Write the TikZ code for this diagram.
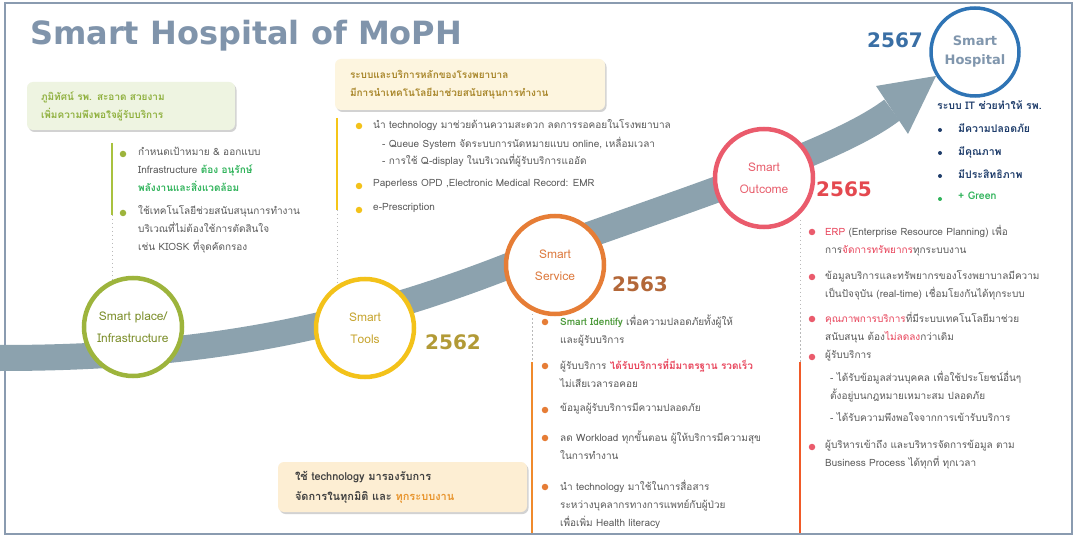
\documentclass[tikz,border=0pt]{standalone}
\usepackage{fontspec}
\setmainfont[Script=Thai]{Loma}
\newfontfamily\titlefont{DejaVu Sans}
\usetikzlibrary{shadows}
\definecolor{titlec}{HTML}{8094AB}
\definecolor{bandc}{HTML}{8CA2AE}
\definecolor{framec}{HTML}{8A9BB0}
\definecolor{placec}{HTML}{9DB43C}
\definecolor{placetxt}{HTML}{7D8F2C}
\definecolor{toolsc}{HTML}{F3C21A}
\definecolor{toolstxt}{HTML}{C7A530}
\definecolor{servc}{HTML}{E67D36}
\definecolor{servtxt}{HTML}{DD7B40}
\definecolor{outc}{HTML}{EA5B6C}
\definecolor{outtxt}{HTML}{E8606E}
\definecolor{hospc}{HTML}{2F74B5}
\definecolor{hosptxt}{HTML}{8096AD}
\definecolor{yA}{HTML}{B29A36}
\definecolor{yB}{HTML}{B36738}
\definecolor{yC}{HTML}{E4484F}
\definecolor{yD}{HTML}{3A6FA5}
\definecolor{txtgray}{HTML}{5A5A5A}
\definecolor{greenhl}{HTML}{2FB35A}
\definecolor{smartgreen}{HTML}{4C9A3A}
\definecolor{redhl}{HTML}{E8435A}
\definecolor{orangehl}{HTML}{E8952E}
\definecolor{navy}{HTML}{1F3D6B}
\definecolor{greenbox}{HTML}{EEF4E1}
\definecolor{greentxt}{HTML}{8FB03E}
\definecolor{yelbox}{HTML}{FDF5DF}
\definecolor{yeltxt}{HTML}{A8862A}
\definecolor{peachbox}{HTML}{FDEED3}
\definecolor{outline}{HTML}{F05A28}
\definecolor{servline}{HTML}{F08A2C}
\definecolor{placeline}{HTML}{A9C23F}
\definecolor{toolsline}{HTML}{F5C518}
\tikzset{
 body/.style={anchor=north west, inner sep=0pt, align=left, font=\fontsize{10}{18}\selectfont, text=txtgray},
 bdot/.style={circle, fill=#1, inner sep=0pt, minimum size=6.5pt},
 ring/.style={circle, draw=#1, line width=4.5pt, fill=white, minimum size=98pt, align=center, font=\fontsize{12}{22}\selectfont},
 year/.style={font=\titlefont\bfseries\fontsize{20}{20}\selectfont, anchor=base west, inner sep=0pt},
 dotline/.style={draw=gray!55, line width=1pt, dash pattern=on 1.5pt off 2.5pt},
 infobox/.style={rounded corners=6pt, drop shadow={opacity=0.35, shadow xshift=1.5pt, shadow yshift=-2pt}, align=left}
}
\begin{document}
\begin{tikzpicture}[x=1pt,y=-1pt]
\useasboundingbox (0,0) rectangle (1077,540);
\fill[white] (0,0) rectangle (1077,540);
\draw[framec, line width=1.2pt] (5,3) rectangle (1072,534);

% title
\node[anchor=base west, inner sep=0pt, font=\titlefont\bfseries\fontsize{32}{32}\selectfont, text=titlec] (title) at (30,45) {Smart Hospital of MoPH};

% band arrow
\coordinate (bs) at (0,358);
\coordinate (bm) at (555,247);
\coordinate (be) at (892,110);
\draw[line width=26pt, bandc] (bs) .. controls (200,358) and (360,330) .. (bm) .. controls (700,195) and (840,150) .. (be);
\coordinate (h1) at (876,86);
\coordinate (h2) at (936,76);
\coordinate (h3) at (908,134);
\fill[bandc] (h1) -- (h2) -- (h3) -- cycle;

% vertical guide lines
\coordinate (l1a) at (112,143); \coordinate (l1b) at (112,215); \coordinate (l1c) at (112,280);
\draw[placeline, line width=2.5pt] (l1a) -- (l1b);
\draw[dotline] (l1b) -- (l1c);
\coordinate (l2a) at (337,118); \coordinate (l2b) at (337,210); \coordinate (l2c) at (337,284);
\draw[toolsline, line width=2.5pt] (l2a) -- (l2b);
\draw[dotline] (l2b) -- (l2c);
\coordinate (l3a) at (532,310); \coordinate (l3b) at (532,362); \coordinate (l3c) at (532,533);
\draw[dotline] (l3a) -- (l3b);
\draw[servline, line width=2.5pt] (l3b) -- (l3c);
\coordinate (l4a) at (800,220); \coordinate (l4b) at (800,362); \coordinate (l4c) at (800,533);
\draw[dotline] (l4a) -- (l4b);
\draw[outline, line width=2.5pt] (l4b) -- (l4c);

% circles
\node[ring=placec, text=placetxt] (place) at (133,327) {Smart place/\\Infrastructure};
\node[ring=toolsc, text=toolstxt] (tools) at (365,328) {Smart\\Tools};
\node[ring=servc, text=servtxt] (service) at (555,265) {Smart\\Service};
\node[ring=outc, text=outtxt] (outcome) at (764,178) {Smart\\Outcome};
\node[ring=hospc, minimum size=88pt, line width=3.5pt, text=hosptxt, font=\titlefont\bfseries\fontsize{13}{19}\selectfont] (hospital) at (975,52) {Smart\\Hospital};

% years
\node[year, text=yA] (y2562) at (425,349) {2562};
\node[year, text=yB] (y2563) at (612,291) {2563};
\node[year, text=yC] (y2565) at (816,197) {2565};
\node[year, text=yD] (y2567) at (867,48) {2567};

% boxes
\node[infobox, fill=greenbox, text=greentxt, text width=180pt, inner xsep=14pt, minimum height=48pt, font=\bfseries\fontsize{10}{18}\selectfont] (gbox) at (131,106) {ภูมิทัศน์ รพ. สะอาด สวยงาม\\เพิ่มความพึงพอใจผู้รับบริการ};
\node[infobox, fill=yelbox, text=yeltxt, text width=240pt, inner xsep=15pt, minimum height=51pt, font=\bfseries\fontsize{10}{18}\selectfont] (ybox) at (470,84.5) {ระบบและบริการหลักของโรงพยาบาล\\มีการนำเทคโนโลยีมาช่วยสนับสนุนการทำงาน};
\node[infobox, fill=peachbox, text=black!75, text width=215pt, inner xsep=17pt, minimum height=50pt, font=\bfseries\fontsize{11}{20}\selectfont] (pbox) at (402.5,487) {ใช้ technology มารองรับการ\\จัดการในทุกมิติ และ \textcolor{orangehl}{ทุกระบบงาน}};

% left bullets
\node[bdot=placec] (b1) at (123,154) {};
\node[body] (t1) at (138,147) {กำหนดเป้าหมาย \& ออกแบบ\\Infrastructure \textcolor{greenhl}{\bfseries ต้อง อนุรักษ์}\\\textcolor{greenhl}{\bfseries พลังงานและสิ่งแวดล้อม}};
\node[bdot=placec] (b2) at (123,213) {};
\node[body] (t2) at (138,205) {ใช้เทคโนโลยีช่วยสนับสนุนการทำงาน\\บริเวณที่ไม่ต้องใช้การตัดสินใจ\\เช่น KIOSK ที่จุดคัดกรอง};

% middle bullets
\node[bdot=toolsc] (m1) at (359,126) {};
\node[body] (mt1) at (373,119) {นำ technology มาช่วยด้านความสะดวก ลดการรอคอยในโรงพยาบาล};
\node[body, font=\fontsize{10}{17}\selectfont] (mt1s) at (382,137) {- Queue System จัดระบบการนัดหมายแบบ online, เหลื่อมเวลา\\- การใช้ Q-display ในบริเวณที่ผู้รับบริการแออัด};
\node[bdot=toolsc] (m2) at (359,186) {};
\node[body] (mt2) at (373,179) {Paperless OPD ,Electronic Medical Record: EMR};
\node[bdot=toolsc] (m3) at (359,210) {};
\node[body] (mt3) at (373,203) {e-Prescription};

% service bullets
\node[bdot=servc] (s1) at (545,322) {};
\node[body] (st1) at (560,315) {\textcolor{smartgreen}{\bfseries Smart Identify} เพื่อความปลอดภัยทั้งผู้ให้\\และผู้รับบริการ};
\node[bdot=servc] (s2) at (545,366) {};
\node[body] (st2) at (560,359) {ผู้รับบริการ \textcolor{redhl}{\bfseries ได้รับบริการที่มีมาตรฐาน รวดเร็ว}\\ไม่เสียเวลารอคอย};
\node[bdot=servc] (s3) at (545,410) {};
\node[body] (st3) at (560,403) {ข้อมูลผู้รับบริการมีความปลอดภัย};
\node[bdot=servc] (s4) at (545,438) {};
\node[body] (st4) at (560,431) {ลด Workload ทุกขั้นตอน ผู้ให้บริการมีความสุข\\ในการทำงาน};
\node[bdot=servc] (s5) at (545,487) {};
\node[body] (st5) at (560,480) {นำ technology มาใช้ในการสื่อสาร\\ระหว่างบุคลากรทางการแพทย์กับผู้ป่วย\\เพื่อเพิ่ม Health literacy};

% outcome bullets
\node[bdot=outc] (o1) at (812,232) {};
\node[body] (ot1) at (825,225) {\textcolor{redhl}{ERP} (Enterprise Resource Planning) เพื่อ\\การ\textcolor{redhl}{จัดการทรัพยากร}ทุกระบบงาน};
\node[bdot=outc] (o2) at (812,277) {};
\node[body] (ot2) at (825,270) {ข้อมูลบริการและทรัพยากรของโรงพยาบาลมีความ\\เป็นปัจจุบัน (real-time) เชื่อมโยงกันได้ทุกระบบ};
\node[bdot=outc] (o3) at (812,319) {};
\node[body] (ot3) at (825,312) {\textcolor{redhl}{คุณภาพการบริการ}ที่มีระบบเทคโนโลยีมาช่วย\\สนับสนุน ต้อง\textcolor{redhl}{ไม่ลดลง}กว่าเดิม};
\node[bdot=outc] (o4) at (812,357) {};
\node[body] (ot4) at (825,350) {ผู้รับบริการ};
\node[body] (ot4a) at (830,371) {- ได้รับข้อมูลส่วนบุคคล เพื่อใช้ประโยชน์อื่นๆ\\ตั้งอยู่บนกฎหมายเหมาะสม ปลอดภัย\\[4pt]- ได้รับความพึงพอใจจากการเข้ารับบริการ};
\node[bdot=outc] (o5) at (812,447) {};
\node[body] (ot5) at (825,440) {ผู้บริหารเข้าถึง และบริหารจัดการข้อมูล ตาม\\Business Process ได้ทุกที่ ทุกเวลา};

% hospital list
\node[body, text=navy, font=\bfseries\fontsize{10.5}{18}\selectfont] (hl) at (937,101) {ระบบ IT ช่วยทำให้ รพ.};
\node[bdot=navy, minimum size=4pt] (h1b) at (940,130) {};
\node[body, text=navy, font=\bfseries\fontsize{10.5}{18}\selectfont] (h1t) at (958,123) {มีความปลอดภัย};
\node[bdot=navy, minimum size=4pt] (h2b) at (940,153) {};
\node[body, text=navy, font=\bfseries\fontsize{10.5}{18}\selectfont] (h2t) at (958,146) {มีคุณภาพ};
\node[bdot=navy, minimum size=4pt] (h3b) at (940,176) {};
\node[body, text=navy, font=\bfseries\fontsize{10.5}{18}\selectfont] (h3t) at (958,169) {มีประสิทธิภาพ};
\node[bdot=greenhl, minimum size=4pt] (h4b) at (940,199) {};
\node[body, text=greenhl, font=\bfseries\fontsize{10.5}{18}\selectfont] (h4t) at (958,192) {+ Green};
\end{tikzpicture}
\end{document}
